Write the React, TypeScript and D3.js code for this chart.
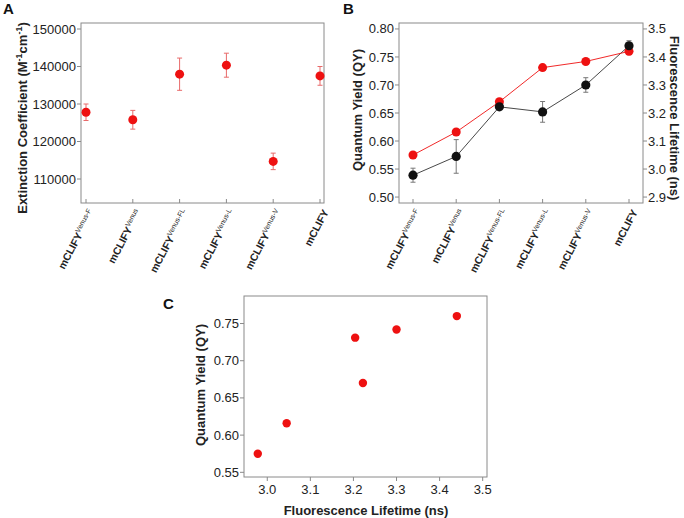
import React from 'react';
import * as d3 from 'd3';

const categories = ['Venus-F', 'Venus', 'Venus-FL', 'Venus-L', 'Venus-V', ''];
const extinction = [127800, 125800, 137950, 140350, 114700, 137500];
const extinctionErr = [2200, 2500, 4300, 3200, 2200, 2500];
const quantumYield = [0.575, 0.616, 0.670, 0.731, 0.742, 0.760];
const quantumYieldErr = [0.003, 0.003, 0.003, 0.003, 0.003, 0.006];
const lifetime = [2.978, 3.045, 3.222, 3.204, 3.300, 3.440];
const lifetimeErr = [0.025, 0.06, 0.008, 0.037, 0.026, 0.018];
const extTicks = [110000, 120000, 130000, 140000, 150000];
const qyTicksB = [0.5, 0.55, 0.6, 0.65, 0.7, 0.75, 0.8];
const ltTicksB = [2.9, 3.0, 3.1, 3.2, 3.3, 3.4, 3.5];
const qyTicksC = [0.55, 0.6, 0.65, 0.7, 0.75];
const ltTicksC = [3.0, 3.1, 3.2, 3.3, 3.4, 3.5];

const RED = '#ee1111';
const FRAME = '#8a8a8a';
const TXT = '#222';
const FONT = '"Liberation Sans", Arial, sans-serif';

const idx = categories.map((_, i) => i);

function CatLabels({ x, y0 }: { x: d3.ScalePoint<number>; y0: number }) {
  return (
    <g>
      {idx.map((i) => (
        <text
          key={i}
          transform={`translate(${x(i)! + 9},${y0}) rotate(-62)`}
          textAnchor="end"
          fontFamily={FONT}
          fontSize={10.5}
          fontWeight="bold"
          fill={TXT}
        >
          mCLIFY
          {categories[i] ? (
            <tspan fontSize={7} fontWeight="normal" dy={-4}>
              {categories[i]}
            </tspan>
          ) : null}
        </text>
      ))}
    </g>
  );
}

export default function App() {
  // Panel A
  const xA = d3.scalePoint<number>().domain(idx).range([86, 320]);
  const yA = d3.scaleLinear().domain([103600, 151600]).range([203, 23]);
  // Panel B
  const xB = d3.scalePoint<number>().domain(idx).range([413, 629]);
  const yB = d3.scaleLinear().domain([0.4894, 0.8106]).range([203, 23]);
  const yB2 = d3.scaleLinear().domain([2.8788, 3.5212]).range([203, 23]);
  // Panel C
  const xC = d3.scaleLinear().domain([2.946, 3.51]).range([244, 487]);
  const yC = d3.scaleLinear().domain([0.5437, 0.787]).range([477, 296]);

  const lineRed = d3
    .line<number>()
    .x((i) => xB(i)!)
    .y((i) => yB(quantumYield[i]));
  const lineBlack = d3
    .line<number>()
    .x((i) => xB(i)!)
    .y((i) => yB2(lifetime[i]));

  const tickText = { fontFamily: FONT, fontSize: 13, fill: TXT } as const;
  const labelText = { fontFamily: FONT, fontSize: 13, fontWeight: 'bold', fill: TXT } as const;

  return (
    <svg
      width={684}
      height={518}
      style={{ position: 'absolute', left: 0, top: 0, background: '#fff' }}
    >
      {/* ---------- Panel A ---------- */}
      <text x={3} y={14} fontFamily={FONT} fontSize={15} fontWeight="bold" fill="#111">A</text>
      <rect x={81} y={23} width={243} height={180} fill="none" stroke={FRAME} strokeWidth={1} />
      {extTicks.map((t) => (
        <g key={t}>
          <line x1={77} x2={81} y1={yA(t)} y2={yA(t)} stroke={FRAME} />
          <text x={76} y={yA(t)} dy="0.35em" textAnchor="end" {...tickText}>{t}</text>
        </g>
      ))}
      {idx.map((i) => (
        <line key={i} x1={xA(i)} x2={xA(i)} y1={203} y2={199} stroke={FRAME} />
      ))}
      {idx.map((i) => (
        <g key={i}>
          <line x1={xA(i)} x2={xA(i)} y1={yA(extinction[i] - extinctionErr[i])} y2={yA(extinction[i] + extinctionErr[i])} stroke="#e86a6a" />
          <line x1={xA(i)! - 2.5} x2={xA(i)! + 2.5} y1={yA(extinction[i] - extinctionErr[i])} y2={yA(extinction[i] - extinctionErr[i])} stroke="#e86a6a" />
          <line x1={xA(i)! - 2.5} x2={xA(i)! + 2.5} y1={yA(extinction[i] + extinctionErr[i])} y2={yA(extinction[i] + extinctionErr[i])} stroke="#e86a6a" />
          <circle cx={xA(i)} cy={yA(extinction[i])} r={4.5} fill={RED} />
        </g>
      ))}
      <CatLabels x={xA} y0={212} />
      <text transform="translate(27,118) rotate(-90)" textAnchor="middle" {...labelText}>
        Extinction Coefficient (M
        <tspan fontSize={9} dy={-5}>-1</tspan>
        <tspan dy={5}>cm</tspan>
        <tspan fontSize={9} dy={-5}>-1</tspan>
        <tspan dy={5}>)</tspan>
      </text>

      {/* ---------- Panel B ---------- */}
      <text x={343} y={14} fontFamily={FONT} fontSize={15} fontWeight="bold" fill="#111">B</text>
      <rect x={399} y={23} width={244} height={180} fill="none" stroke={FRAME} strokeWidth={1} />
      {qyTicksB.map((t) => (
        <g key={t}>
          <line x1={395} x2={399} y1={yB(t)} y2={yB(t)} stroke={FRAME} />
          <text x={394} y={yB(t)} dy="0.35em" textAnchor="end" {...tickText}>{t.toFixed(2)}</text>
        </g>
      ))}
      {ltTicksB.map((t) => (
        <g key={t}>
          <line x1={643} x2={647} y1={yB2(t)} y2={yB2(t)} stroke={FRAME} />
          <text x={648} y={yB2(t)} dy="0.35em" textAnchor="start" {...tickText}>{t.toFixed(1)}</text>
        </g>
      ))}
      {idx.map((i) => (
        <line key={i} x1={xB(i)} x2={xB(i)} y1={203} y2={199} stroke={FRAME} />
      ))}
      <path d={lineBlack(idx) || ''} fill="none" stroke="#333" strokeWidth={0.9} />
      <path d={lineRed(idx) || ''} fill="none" stroke={RED} strokeWidth={0.9} />
      {idx.map((i) => {
        const lo = yB2(lifetime[i] - lifetimeErr[i]);
        const hi = yB2(lifetime[i] + lifetimeErr[i]);
        return (
          <g key={'k' + i}>
            <line x1={xB(i)} x2={xB(i)} y1={lo} y2={hi} stroke="#777" />
            <line x1={xB(i)! - 2.5} x2={xB(i)! + 2.5} y1={lo} y2={lo} stroke="#777" />
            <line x1={xB(i)! - 2.5} x2={xB(i)! + 2.5} y1={hi} y2={hi} stroke="#777" />
          </g>
        );
      })}
      {idx.map((i) => {
        const lo = yB(quantumYield[i] - quantumYieldErr[i]);
        const hi = yB(quantumYield[i] + quantumYieldErr[i]);
        return (
          <g key={'r' + i}>
            <line x1={xB(i)} x2={xB(i)} y1={lo} y2={hi} stroke="#e86a6a" />
            <line x1={xB(i)! - 2.5} x2={xB(i)! + 2.5} y1={lo} y2={lo} stroke="#e86a6a" />
            <line x1={xB(i)! - 2.5} x2={xB(i)! + 2.5} y1={hi} y2={hi} stroke="#e86a6a" />
          </g>
        );
      })}
      {idx.map((i) => (
        <circle key={'rc' + i} cx={xB(i)} cy={yB(quantumYield[i])} r={4.5} fill={RED} />
      ))}
      {idx.map((i) => (
        <circle key={'kc' + i} cx={xB(i)} cy={yB2(lifetime[i])} r={4.6} fill="#111" />
      ))}
      <CatLabels x={xB} y0={212} />
      <text transform="translate(362,110) rotate(-90)" textAnchor="middle" {...labelText}>Quantum Yield (QY)</text>
      <text transform="translate(670,118) rotate(90)" textAnchor="middle" {...labelText}>Fluorescence Lifetime (ns)</text>

      {/* ---------- Panel C ---------- */}
      <text x={163} y={309} fontFamily={FONT} fontSize={15} fontWeight="bold" fill="#111">C</text>
      <rect x={244} y={296} width={243} height={181} fill="none" stroke={FRAME} strokeWidth={1} />
      {qyTicksC.map((t) => (
        <g key={t}>
          <line x1={240} x2={244} y1={yC(t)} y2={yC(t)} stroke={FRAME} />
          <text x={239} y={yC(t)} dy="0.35em" textAnchor="end" {...tickText}>{t.toFixed(2)}</text>
        </g>
      ))}
      {ltTicksC.map((t) => (
        <g key={t}>
          <line x1={xC(t)} x2={xC(t)} y1={477} y2={481} stroke={FRAME} />
          <text x={xC(t)} y={494} textAnchor="middle" {...tickText}>{t.toFixed(1)}</text>
        </g>
      ))}
      {idx.map((i) => (
        <circle key={'c' + i} cx={xC(lifetime[i])} cy={yC(quantumYield[i])} r={4.2} fill={RED} />
      ))}
      <text transform="translate(205,385) rotate(-90)" textAnchor="middle" {...labelText}>Quantum Yield (QY)</text>
      <text x={366} y={515} textAnchor="middle" {...labelText}>Fluorescence Lifetime (ns)</text>
    </svg>
  );
}
